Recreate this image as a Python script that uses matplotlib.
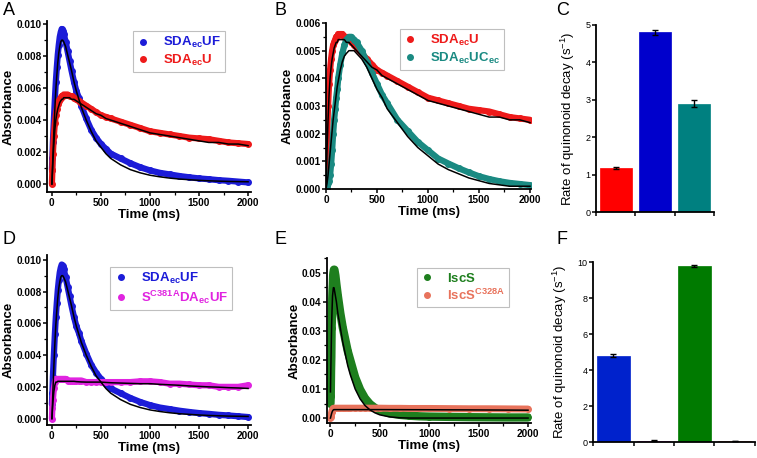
import matplotlib
matplotlib.use("Agg")
import matplotlib.pyplot as plt
from matplotlib.ticker import MultipleLocator

plt.rcParams["font.family"] = ["Liberation Sans", "DejaVu Sans"]
plt.rcParams["mathtext.fontset"] = "custom"
plt.rcParams["mathtext.rm"] = "Liberation Sans"
plt.rcParams["mathtext.bf"] = "Liberation Sans:bold"
plt.rcParams["mathtext.it"] = "Liberation Sans:italic"

# ---- time grids (ms) ----
t_main = [0, 5, 10, 20, 30, 40, 50, 60, 70, 80, 90, 100, 110, 120, 140, 160, 180, 200,
          225, 250, 275, 300, 350, 400, 450, 500, 550, 600, 700, 800, 900, 1000, 1100,
          1200, 1300, 1400, 1500, 1600, 1700, 1800, 1900, 2000]
t_iscs = [0, 3, 6, 9, 12, 15, 18, 21, 24, 27, 30, 35, 40, 50, 60, 75, 100, 125, 150,
          175, 200, 250, 300, 350, 400, 450, 500, 600, 700, 800, 900, 1000, 1200, 1400,
          1600, 1800, 2000]

# ---- absorbance traces ----
uf_data = [0.0009, 0.0016, 0.0026, 0.0040, 0.0053, 0.0064, 0.0073, 0.0081, 0.0087, 0.0092,
           0.0095, 0.0097, 0.0096, 0.0094, 0.0089, 0.0083, 0.0077, 0.0071, 0.0064, 0.0058,
           0.0054, 0.0049, 0.0041, 0.0034, 0.0029, 0.0025, 0.0022, 0.0019, 0.0016, 0.0013,
           0.00105, 0.00085, 0.0007, 0.0006, 0.0005, 0.00042, 0.00035, 0.0003, 0.00024,
           0.0002, 0.00015, 0.0001]
uf_fit = [0.0, 0.0008, 0.0017, 0.0033, 0.0047, 0.0059, 0.0068, 0.0076, 0.0082, 0.0086,
          0.0089, 0.0090, 0.0090, 0.0089, 0.0086, 0.0081, 0.0076, 0.0071, 0.0064, 0.0058,
          0.0053, 0.0048, 0.0040, 0.0033, 0.0027, 0.0023, 0.0019, 0.0016, 0.0012, 0.0009,
          0.0007, 0.00055, 0.00045, 0.00037, 0.00031, 0.00027, 0.00023, 0.0002, 0.00018,
          0.00016, 0.00015, 0.00014]
u_data = [0.0, 0.0009, 0.0019, 0.0030, 0.0038, 0.0043, 0.0047, 0.0050, 0.0052, 0.0053,
          0.0054, 0.0055, 0.0055, 0.0056, 0.0056, 0.0056, 0.0055, 0.0055, 0.0054, 0.0053,
          0.0052, 0.0051, 0.0049, 0.0047, 0.0045, 0.0043, 0.0042, 0.0041, 0.0039, 0.0037,
          0.0035, 0.0033, 0.0032, 0.0031, 0.0030, 0.0029, 0.00285, 0.0028, 0.0027, 0.0026,
          0.00255, 0.0025]
u_fit = [0.0, 0.0007, 0.0014, 0.0025, 0.0034, 0.0040, 0.0044, 0.0047, 0.0049, 0.0051,
         0.0052, 0.0053, 0.0053, 0.0054, 0.0054, 0.0054, 0.0054, 0.0053, 0.0053, 0.0052,
         0.0051, 0.0050, 0.0048, 0.0046, 0.0044, 0.0043, 0.0041, 0.0040, 0.0038, 0.0036,
         0.0034, 0.0032, 0.0031, 0.0030, 0.0029, 0.0028, 0.0027, 0.0026, 0.0026, 0.0025,
         0.0025, 0.0024]
uc_data = [0.0, 0.0, 0.0001, 0.0002, 0.0003, 0.0005, 0.0009, 0.0014, 0.0020, 0.0025,
           0.0029, 0.0033, 0.0036, 0.0040, 0.0045, 0.0049, 0.0052, 0.0054, 0.0055, 0.0055,
           0.0054, 0.0053, 0.0050, 0.0046, 0.0042, 0.0038, 0.0034, 0.0031, 0.0025, 0.0021,
           0.0017, 0.0014, 0.0011, 0.00092, 0.00075, 0.0006, 0.00046, 0.00036, 0.00028,
           0.00022, 0.00018, 0.00014]
uc_fit = [0.0, 0.0001, 0.0002, 0.0005, 0.0009, 0.0013, 0.0017, 0.0021, 0.0025, 0.0028,
          0.0031, 0.0034, 0.0037, 0.0039, 0.0043, 0.0046, 0.0048, 0.0049, 0.0050, 0.0050,
          0.0050, 0.0049, 0.0047, 0.0044, 0.0040, 0.0036, 0.0033, 0.0029, 0.0024, 0.0019,
          0.0015, 0.0012, 0.0009, 0.0007, 0.00055, 0.0004, 0.0003, 0.0002, 0.00015, 0.0001,
          0.0001, 0.0001]
c381_data = [0.0, 0.0007, 0.0012, 0.0019, 0.0023, 0.0025, 0.0025, 0.0025, 0.0025, 0.0025,
             0.0025, 0.0025, 0.0025, 0.0025, 0.0025, 0.0024, 0.0024, 0.0024, 0.0024, 0.0024,
             0.0024, 0.0024, 0.0023, 0.0023, 0.0023, 0.0023, 0.0023, 0.0023, 0.0023, 0.0023,
             0.00235, 0.00235, 0.0023, 0.0022, 0.0022, 0.00215, 0.0021, 0.0021, 0.0020,
             0.0020, 0.0020, 0.0021]
c381_fit = [0.0, 0.0005, 0.0010, 0.0017, 0.0021, 0.0023, 0.0023, 0.00235, 0.00235, 0.00235,
            0.00235, 0.00235, 0.00235, 0.00235, 0.00235, 0.00235, 0.00235, 0.00235, 0.00235,
            0.00233, 0.00232, 0.00231, 0.0023, 0.0023, 0.0023, 0.0023, 0.00228, 0.00226,
            0.00224, 0.00222, 0.0022, 0.0022, 0.00216, 0.00213, 0.0021, 0.00206, 0.00203,
            0.002, 0.00198, 0.00195, 0.00193, 0.0019]
iscs_data = [0.005, 0.0075, 0.016, 0.021, 0.031, 0.034, 0.041, 0.044, 0.046, 0.049, 0.050,
             0.051, 0.051, 0.049, 0.046, 0.042, 0.036, 0.031, 0.027, 0.023, 0.020, 0.014,
             0.0098, 0.0068, 0.0048, 0.0035, 0.0026, 0.0016, 0.0011, 0.0008, 0.0006, 0.0005,
             0.0004, 0.0003, 0.00025, 0.0002, 0.0002]
iscs_fit = [0.009, 0.015, 0.021, 0.027, 0.032, 0.036, 0.039, 0.042, 0.043, 0.044, 0.0448,
            0.0448, 0.044, 0.042, 0.040, 0.036, 0.031, 0.026, 0.022, 0.018, 0.015, 0.0100,
            0.0066, 0.0043, 0.0028, 0.0018, 0.0011, 0.0004, 0.0001, 0.0, 0.0, 0.0, 0.0, 0.0,
            0.0, 0.0, 0.0]
c328_data = [0.0, 0.0005, 0.0010, 0.0015, 0.0020, 0.0024, 0.0027, 0.0030, 0.0031, 0.0032,
             0.0033, 0.0034, 0.0034, 0.0034, 0.0034, 0.0034, 0.0034, 0.0034, 0.0034, 0.0034,
             0.0034, 0.0034, 0.0034, 0.0034, 0.0034, 0.0034, 0.0034, 0.00335, 0.00335,
             0.0033, 0.0033, 0.0033, 0.00325, 0.0032, 0.0032, 0.00315, 0.0031]
c328_fit = [0.0, 0.0004, 0.0008, 0.0012, 0.0016, 0.0019, 0.0022, 0.0024, 0.0026, 0.0027,
            0.0028, 0.0029, 0.0029, 0.0029, 0.0029, 0.0029, 0.0029, 0.0029, 0.0029, 0.0029,
            0.0029, 0.0029, 0.0029, 0.0029, 0.0029, 0.0029, 0.0029, 0.00289, 0.00288,
            0.00287, 0.00286, 0.00285, 0.00282, 0.0028, 0.00277, 0.00274, 0.0027]

# ---- decay rates (s^-1) ----
rate_c = [1.18, 4.80, 2.90]
rate_c_err = [0.03, 0.07, 0.10]
rate_f = [4.80, 0.07, 9.78, 0.05]
rate_f_err = [0.07, 0.02, 0.07, 0.02]

BLUE, RED, TEAL = "#1c1cd8", "#ee1a1a", "#1a8a82"
MAG, GREEN, SALMON = "#e024e0", "#1e7f1e", "#e8735c"
L_UF = r"$\mathbf{SDA_{ec}UF}$"
L_U = r"$\mathbf{SDA_{ec}U}$"
L_UC = r"$\mathbf{SDA_{ec}UC_{ec}}$"
L_381 = r"$\mathbf{S^{C381A}DA_{ec}UF}$"
L_ISCS = r"$\mathbf{IscS}$"
L_328 = r"$\mathbf{IscS^{C328A}}$"

W, H = 757, 458
fig = plt.figure(figsize=(W / 100, H / 100), dpi=100)


def px_axes(x0, y0, x1, y1):
    # pixel box (left, top, right, bottom) -> axes
    return fig.add_axes([x0 / W, 1 - y1 / H, (x1 - x0) / W, (y1 - y0) / H])


def style(ax, bold=True):
    for s in ("top", "right"):
        ax.spines[s].set_visible(False)
    for s in ("left", "bottom"):
        ax.spines[s].set_linewidth(1.3)
    ax.tick_params(direction="out", width=1.1, length=3, labelsize=7.2, pad=1)
    ax.tick_params(which="minor", direction="out", width=0.9, length=2)
    if bold:
        for lab in ax.get_xticklabels() + ax.get_yticklabels():
            lab.set_fontweight("bold")


def trace(ax, t, y, fit, col, label, lw=4.5):
    ax.plot(t, y, "-", color=col, lw=lw, solid_capstyle="round", zorder=2)
    ax.plot(t, y, "o", color=col, ms=4, label=label, zorder=2)
    ax.plot(t, fit, "-", color="black", lw=1.1, zorder=4)


def trace_axes(ax, xlim, ylim, ymaj, ymin, yfmt):
    ax.set_xlim(*xlim)
    ax.set_ylim(*ylim)
    ax.xaxis.set_major_locator(MultipleLocator(500))
    ax.xaxis.set_minor_locator(MultipleLocator(250))
    ax.yaxis.set_major_locator(MultipleLocator(ymaj))
    ax.yaxis.set_minor_locator(MultipleLocator(ymin))
    ax.yaxis.set_major_formatter(plt.FormatStrFormatter(yfmt))
    ax.set_xlabel("Time (ms)", fontsize=9.5, fontweight="bold", labelpad=1)
    ax.set_ylabel("Absorbance", fontsize=9.5, fontweight="bold", labelpad=1)
    style(ax)


def legend(ax, anchor, cols):
    lg = ax.legend(loc="upper left", bbox_to_anchor=anchor, fontsize=9.5, frameon=True,
                   fancybox=False, edgecolor="#b0b0b0", handlelength=1.0,
                   handletextpad=1.0, borderpad=0.3, labelspacing=0.2, markerscale=1.0,
                   borderaxespad=0)
    lg.get_frame().set_linewidth(0.8)
    for txt, c in zip(lg.get_texts(), cols):
        txt.set_color(c)


def bar_axes(ax, vals, errs, cols, ymax, ystep):
    x = list(range(len(vals)))
    ax.bar(x, vals, width=0.82, color=cols, edgecolor=cols, lw=0.5,
           yerr=errs, capsize=2.2, error_kw=dict(ecolor="black", elinewidth=1.0, capthick=1.0))
    ax.set_xlim(-0.5, len(vals) - 0.5)
    ax.set_ylim(0, ymax)
    ax.set_xticks([i + 0.5 for i in range(-1, len(vals))])
    ax.set_xticklabels([])
    ax.yaxis.set_major_locator(MultipleLocator(ystep))
    ax.set_ylabel(r"Rate of quinonoid decay (s$^{-1}$)", fontsize=9.5, labelpad=6)
    style(ax, bold=False)
    ax.tick_params(labelsize=6.5)


# A
axA = px_axes(47, 21, 251, 192)
trace(axA, t_main, uf_data, uf_fit, BLUE, L_UF)
trace(axA, t_main, u_data, u_fit, RED, L_U)
trace_axes(axA, (-50, 2030), (-0.0005, 0.0102), 0.002, 0.001, "%.3f")
legend(axA, (0.42, 0.94), [BLUE, RED])

# B
axB = px_axes(326, 23, 531, 189)
trace(axB, t_main, u_data, u_fit, RED, L_U)
trace(axB, t_main, uc_data, uc_fit, TEAL, L_UC)
trace_axes(axB, (0, 2010), (0, 0.006), 0.001, 0.0005, "%.3f")
legend(axB, (0.36, 0.965), [RED, TEAL])

# C
axC = px_axes(596, 25, 714, 212)
bar_axes(axC, rate_c, rate_c_err, ["#ff0000", "#0000cc", "#008080"], 5, 1)

# D
axD = px_axes(47, 255, 251, 425)
trace(axD, t_main, uf_data, uf_fit, BLUE, L_UF)
trace(axD, t_main, c381_data, c381_fit, MAG, L_381)
trace_axes(axD, (-50, 2030), (-0.0004, 0.0103), 0.002, 0.001, "%.3f")
legend(axD, (0.31, 0.93), [BLUE, MAG])

# E
axE = px_axes(327, 258, 531, 423)
trace(axE, t_iscs, iscs_data, iscs_fit, GREEN, L_ISCS, lw=6)
trace(axE, t_iscs, c328_data, c328_fit, SALMON, L_328, lw=5)
trace_axes(axE, (-35, 2030), (-0.0017, 0.055), 0.01, 0.005, "%.2f")
legend(axE, (0.44, 0.94), [GREEN, SALMON])

# F
axF = px_axes(593, 262, 755, 442)
bar_axes(axF, rate_f, rate_f_err, ["#0022cc", MAG, "#007a00", SALMON], 10, 2)

for lab, x, y in (("A", 3, 2), ("B", 274, 2), ("C", 556, 2),
                  ("D", 3, 231), ("E", 274, 231), ("F", 556, 231)):
    fig.text(x / W, 1 - y / H, lab, fontsize=13, ha="left", va="top")

fig.savefig("out.png", dpi=100)
